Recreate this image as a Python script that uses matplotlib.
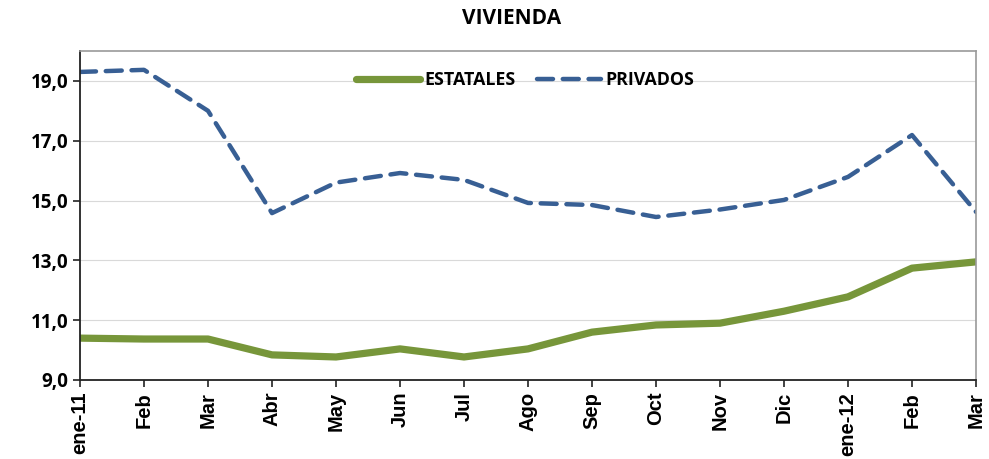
import numpy as np
import matplotlib
matplotlib.use("Agg")
import matplotlib.pyplot as plt

months = ['ene-11', 'Feb', 'Mar', 'Abr', 'May', 'Jun', 'Jul', 'Ago',
          'Sep', 'Oct', 'Nov', 'Dic', 'ene-12', 'Feb', 'Mar']
estatales = [10.40, 10.37, 10.37, 9.84, 9.77, 10.04, 9.77, 10.04,
             10.60, 10.84, 10.90, 11.30, 11.78, 12.74, 12.95]
privados = [19.30, 19.37, 18.00, 14.58, 15.60, 15.92, 15.69, 14.92,
            14.85, 14.45, 14.70, 15.02, 15.79, 17.19, 14.62]
yticks = [9.0, 11.0, 13.0, 15.0, 17.0, 19.0]

GREEN = '#77963A'
BLUE = '#385F94'
LABEL_FONT = 'Open Sans'

fig = plt.figure(figsize=(9.89, 4.59), dpi=100)
ax = fig.add_axes([80 / 989, 79 / 459, 896 / 989, 329 / 459])

x = np.arange(len(months))
ax.plot(x, estatales, color=GREEN, lw=5.2, solid_capstyle='round',
        solid_joinstyle='round', label='ESTATALES')
ax.plot(x, privados, color=BLUE, lw=3.2, dashes=(3.6, 2.2),
        dash_capstyle='round', label='PRIVADOS')

ax.set_xlim(0, len(months) - 1)
ax.set_ylim(9, 20)
ax.set_yticks(yticks)
ax.set_yticklabels([f"{v:.1f}".replace('.', ',') for v in yticks],
                   fontsize=13.5, fontweight='bold', family=LABEL_FONT)
ax.set_xticks(x)
ax.set_xticklabels(months, rotation=90, fontsize=14.5, fontweight='bold',
                   family='Liberation Sans')
ax.grid(axis='y', color='#D9D9D9', lw=0.8)
ax.set_axisbelow(True)
ax.tick_params(axis='both', direction='out', length=5, width=1.2, color='#222222')

for side in ('left', 'bottom'):
    ax.spines[side].set_color('#222222')
    ax.spines[side].set_linewidth(1.3)
for side in ('top', 'right'):
    ax.spines[side].set_color('#999999')
    ax.spines[side].set_linewidth(1.2)

ax.legend(loc='center', bbox_to_anchor=(0.497, 0.912), ncol=2,
          frameon=False, handlelength=3.6, columnspacing=1.2, handletextpad=0.25,
          prop={'family': LABEL_FONT, 'weight': 'bold', 'size': 12.8})

fig.text(0.517, 0.96, 'VIVIENDA', ha='center', va='center',
         fontsize=15, fontweight='bold', family=LABEL_FONT)

fig.savefig('out.png', dpi=100)
